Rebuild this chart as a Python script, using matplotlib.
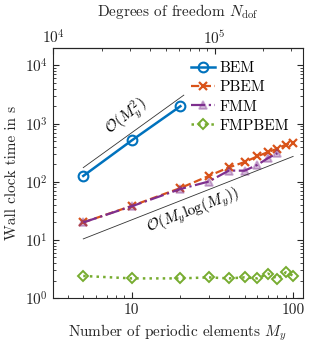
import numpy as np
import matplotlib
matplotlib.use('Agg')
import matplotlib.pyplot as plt
from matplotlib.ticker import NullFormatter

plt.rcParams['font.family'] = 'serif'
plt.rcParams['font.serif'] = ['cmr10']
plt.rcParams['mathtext.fontset'] = 'cm'
plt.rcParams['axes.formatter.use_mathtext'] = True
plt.rcParams['font.size'] = 11

# data
m_bem = [5, 10, 20]
t_bem = [126, 515, 1990]

m_all = [5, 10, 20, 30, 40, 50, 60, 70, 80, 90, 100]
t_pbem = [20, 38.5, 78, 126, 177, 218, 274, 325, 371, 435, 465]
m_fmm = [5, 10, 20, 30, 40, 50, 60, 70, 80]
t_fmm = [20, 38, 75, 101, 156, 155, 195, 256, 310]
t_fmpbem = [2.4, 2.18, 2.18, 2.27, 2.18, 2.27, 2.18, 2.63, 2.15, 2.77, 2.43]

dof_per_elem = 3072

fig = plt.figure(figsize=(3.11, 3.45), dpi=100)
ax = fig.add_axes([0.170, 0.136, 0.804, 0.725])

ax.plot(m_bem, t_bem, '-o', color='#0072BD', lw=1.8, ms=7, mfc='none', mew=1.5, label='BEM')
ax.plot(m_all, t_pbem, '--x', color='#D95319', lw=1.6, ms=5.5, mew=1.6, label='PBEM')
ax.plot(m_fmm, t_fmm, '-.^', color='#7E2F8E', lw=1.6, ms=6, mfc=(0.49, 0.18, 0.56, 0.35), mew=1.3, label='FMM')
ax.plot(m_all, t_fmpbem, ':D', color='#77AC30', lw=1.8, ms=5, mfc='none', mew=1.4, label='FMPBEM')

# reference slopes
mq = np.array([5, 21])
ax.plot(mq, 7.0 * mq**2, color='#333333', lw=0.6)
ml = np.array([5, 100])
ax.plot(ml, 0.216 * ml * np.log(dof_per_elem * ml), color='#333333', lw=0.6)
ax.text(9.2, 1300, r'$\mathcal{O}(M_y^2)$', rotation=38, ha='center', va='center', fontsize=11)
ax.text(24, 32, r'$\mathcal{O}(M_y\log(M_y))$', rotation=21, ha='center', va='center', fontsize=11)

ax.set_xscale('log')
ax.set_yscale('log')
ax.set_xlim(3.24, 115)
ax.set_ylim(1, 2e4)
ax.set_xticks([10, 100])
ax.set_xticklabels(['10', '100'])
ax.xaxis.set_minor_formatter(NullFormatter())
ax.tick_params(which='both', direction='in', right=True, colors='#262626')
ax.tick_params(which='major', length=4)
ax.tick_params(which='minor', length=2)
for s in ax.spines.values():
    s.set_color('#262626')
    s.set_linewidth(0.8)

ax.set_xlabel(r'Number of periodic elements $M_y$', color='#262626')
ax.set_ylabel('Wall clock time in s', color='#262626')

sec = ax.secondary_xaxis('top', functions=(lambda m: m * dof_per_elem, lambda n: n / dof_per_elem))
sec.set_xticks([1e4, 1e5])
sec.xaxis.set_minor_formatter(NullFormatter())
sec.tick_params(which='both', direction='in', colors='#262626', pad=1.0)
sec.tick_params(which='major', length=4)
sec.tick_params(which='minor', length=2)
sec.set_xlabel(r'Degrees of freedom $N_{\mathrm{dof}}$', color='#262626', labelpad=9)

ax.legend(loc='upper right', frameon=False, handlelength=1.6, handletextpad=0.3,
          labelspacing=0.35, borderaxespad=0.5, fontsize=11)

fig.savefig('out.png', dpi=100)
